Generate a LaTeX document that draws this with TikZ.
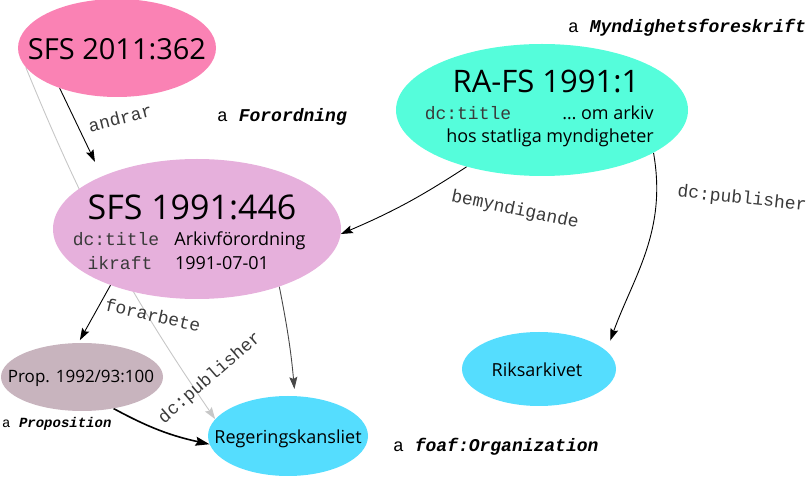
\documentclass[tikz,border=0pt]{standalone}
\usepackage{fontspec}
\setmainfont{Open Sans}
\setmonofont{Liberation Mono}
\usetikzlibrary{shapes.geometric,arrows.meta}
\pgfdeclarelayer{background}
\pgfsetlayers{background,main}
\definecolor{cpink}{HTML}{FA82B4}
\definecolor{caqua}{HTML}{55FDDB}
\definecolor{corchid}{HTML}{E6B0DC}
\definecolor{cprop}{HTML}{C8B4BE}
\definecolor{ccyan}{HTML}{55DDFE}
\definecolor{clab}{HTML}{3A3A3A}
\newcommand{\fsz}[1]{\fontsize{#1}{#1}\selectfont}
\tikzset{
  blob/.style={ellipse, inner sep=0pt, draw=none},
  txt/.style={inner sep=0pt, anchor=base, text=black},
  mono/.style={inner sep=0pt, anchor=base, font=\ttfamily\fsz{18}, text=clab},
  tlab/.style={inner sep=0pt, anchor=base west, font=\ttfamily\fsz{18}, text=black},
  elab/.style={inner sep=0pt, font=\ttfamily\fsz{18}, text=clab},
  edge/.style={draw=black, line width=0.9pt, -{Stealth[length=12pt,width=8pt,inset=2pt]}},
  grayedge/.style={draw=black!22, line width=0.9pt, -{Stealth[length=12pt,width=8pt,inset=2pt]}},
  darkedge/.style={draw=black!72, line width=0.9pt, -{Stealth[length=12pt,width=8pt,inset=2pt]}},
  thickedge/.style={draw=black, line width=1.6pt, -{Stealth[length=14pt,width=9pt,inset=2pt]}},
}
\begin{document}
\begin{tikzpicture}[x=1pt,y=1pt]
\useasboundingbox (0,0) rectangle (812,477);
% ellipses
\node[blob, fill=cpink, minimum width=198pt, minimum height=98pt] (s2011) at (117,429) {};
\node[blob, fill=caqua, minimum width=292pt, minimum height=132pt] (rafs) at (542,367) {};
\node[blob, fill=corchid, minimum width=288pt, minimum height=140pt] (s1991) at (197,248) {};
\node[blob, fill=cprop, minimum width=162pt, minimum height=68pt] (prop) at (82,100) {};
\node[blob, fill=ccyan, minimum width=160pt, minimum height=80pt] (rk) at (288,41) {};
\node[blob, fill=ccyan, minimum width=154pt, minimum height=74pt] (riks) at (539,108) {};
% texts
\node[txt, font=\fsz{29}] (t2011) at (117,417) {SFS 2011:362};
\node[txt, font=\fsz{31}] (trafs) at (546,384) {RA-FS 1991:1};
\node[mono] (rafsk) at (468,357) {dc:title};
\node[txt, font=\fsz{18}] (rafsv1) at (608,357) {\dots\ om arkiv};
\node[txt, font=\fsz{18}] (rafsv2) at (550,334) {hos statliga myndigheter};
\node[txt, font=\fsz{34}] (t1991) at (192,257) {SFS 1991:446};
\node[mono] (s1991k1) at (116,231) {dc:title};
\node[txt, font=\fsz{18}] (s1991v1) at (240,231) {Arkivförordning};
\node[mono] (s1991k2) at (120,207) {ikraft};
\node[txt, font=\fsz{18}] (s1991v2) at (222,207) {1991-07-01};
\node[txt, font=\fsz{17}] (tprop) at (81,94) {Prop. 1992/93:100};
\node[txt, font=\fsz{18}] (trk) at (288,34) {Regeringskansliet};
\node[txt, font=\fsz{18}] (triks) at (537,100) {Riksarkivet};
% type labels
\node[tlab] (ty1) at (568,444) {a \textbf{\textit{Myndighetsforeskrift}}};
\node[tlab] (ty2) at (217,355) {a \textbf{\textit{Forordning}}};
\node[tlab, font=\ttfamily\fsz{14}] (ty3) at (2,49) {a \textbf{\textit{Proposition}}};
\node[tlab] (ty4) at (393,25) {a \textbf{\textit{foaf:Organization}}};
% edges (behind the ellipses)
\begin{pgfonlayer}{background}
\draw[grayedge] (s2011.192) to[bend right=6] (rk.167);
\draw[edge, shorten >=16pt] (s2011.215) -- (s1991.151);
\draw[edge, shorten >=3pt] (s1991.213) -- (prop.96);
\draw[darkedge, shorten >=7pt] (s1991.325) to[bend left=3] (rk.80);
\draw[thickedge] (prop.315) to[bend right=8] (rk.186);
\draw[edge] (rafs.217) to[bend left=5] (s1991.358);
\draw[edge, shorten >=11pt] (rafs.339) to[out=-80, in=70] (riks.15);
\end{pgfonlayer}
% edge labels
\node[elab, rotate=14] (l1) at (120,359) {andrar};
\node[elab, rotate=-13] (l2) at (153,162) {forarbete};
\node[elab, rotate=41] (l3) at (210,99) {dc:publisher};
\node[elab, rotate=-12] (l4) at (515,267) {bemyndigande};
\node[elab, rotate=-6] (l5) at (742,278) {dc:publisher};
\end{tikzpicture}
\end{document}
